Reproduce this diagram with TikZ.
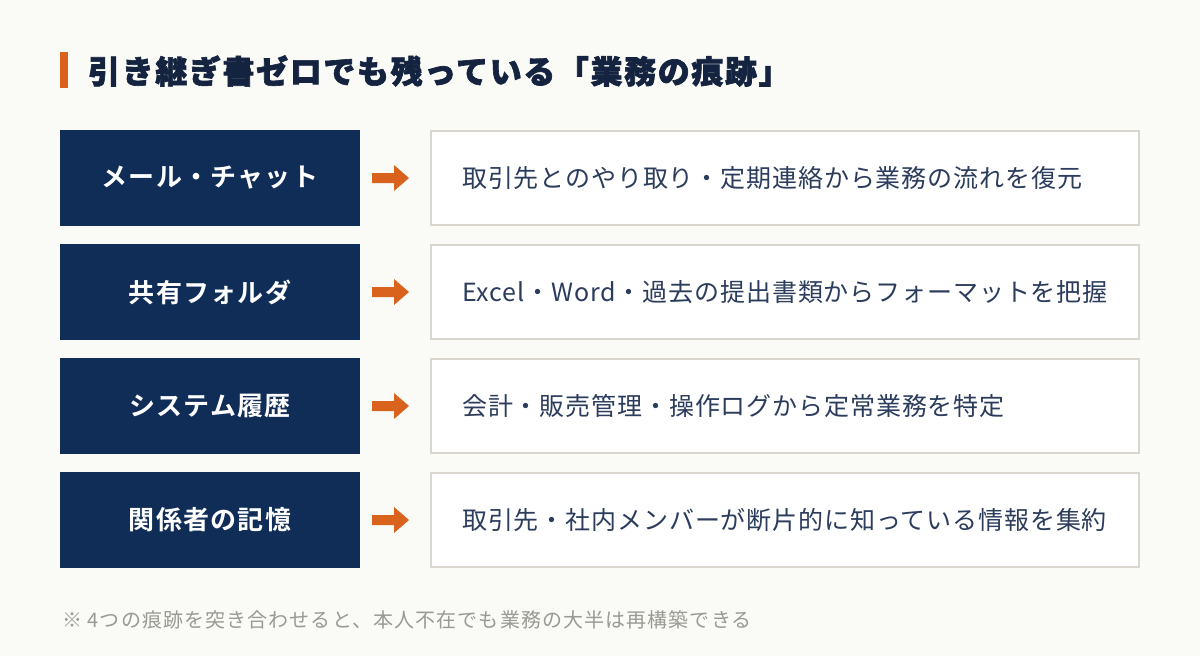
\documentclass[tikz,border=0pt]{standalone}
\usepackage{fontspec}
\newfontfamily\jp{Noto Sans CJK JP}[LetterSpace=3.5]
\newfontfamily\jpbold{Noto Sans CJK JP Bold}[LetterSpace=4.8]
\newfontfamily\jpblack{Noto Sans CJK JP Black}[LetterSpace=5,FakeBold=2]
\newfontfamily\jpnote{Noto Sans CJK JP}[LetterSpace=5.5]
\definecolor{bgc}{HTML}{FAFAF6}
\definecolor{navy}{HTML}{102D58}
\definecolor{titlec}{HTML}{14233F}
\definecolor{orangec}{HTML}{D9621C}
\definecolor{bordc}{HTML}{D9D6CF}
\definecolor{txtc}{HTML}{2B3C5C}
\definecolor{notec}{HTML}{9A9A94}
\tikzset{
  leftbox/.style={fill=navy, minimum width=300pt, minimum height=96pt, inner sep=0pt,
    text=white, font={\jpbold\fontsize{26}{30}\selectfont}},
  rightbox/.style={fill=white, draw=bordc, line width=2pt, minimum width=708pt, minimum height=94pt, inner sep=0pt},
  rtext/.style={anchor=west, inner sep=0pt, text=txtc, font={\jp\fontsize{25}{29}\selectfont}},
  arrowfill/.style={fill=orangec, draw=none},
}
\begin{document}
\begin{tikzpicture}[x=1pt,y=-1pt]
\fill[bgc] (0,0) rectangle (1200,656);
\useasboundingbox (0,0) rectangle (1200,656);
\fill[orangec] (60,52) rectangle (68,88);
\node[anchor=west, inner sep=0pt, text=titlec, font={\jpblack\fontsize{32}{36}\selectfont}] (title) at (88,71) {引き継ぎ書ゼロでも残っている「業務の痕跡」};
\foreach \i/\y/\l/\r in {1/178/メール・チャット/取引先とのやり取り・定期連絡から業務の流れを復元,
  2/292/共有フォルダ/Excel・Word・過去の提出書類からフォーマットを把握,
  3/406/システム履歴/会計・販売管理・操作ログから定常業務を特定,
  4/520/関係者の記憶/取引先・社内メンバーが断片的に知っている情報を集約}{
  \node[leftbox] (l\i) at (210,\y) {\l};
  \node[rightbox] (r\i) at (785,\y) {};
  \node[rtext] (t\i) at (462,\y) {\r};
  \coordinate (a\i) at (372,\y);
  \fill[arrowfill] (a\i) ++(0,-5) -- ++(22,0) -- ++(0,-8) -- ++(15,13) -- ++(-15,13) -- ++(0,-8) -- ++(-22,0) -- cycle;
}
\node[anchor=west, inner sep=0pt, text=notec, font={\jpnote\fontsize{20}{24}\selectfont}] (note) at (62,620) {※ 4つの痕跡を突き合わせると、本人不在でも業務の大半は再構築できる};
\end{tikzpicture}
\end{document}
